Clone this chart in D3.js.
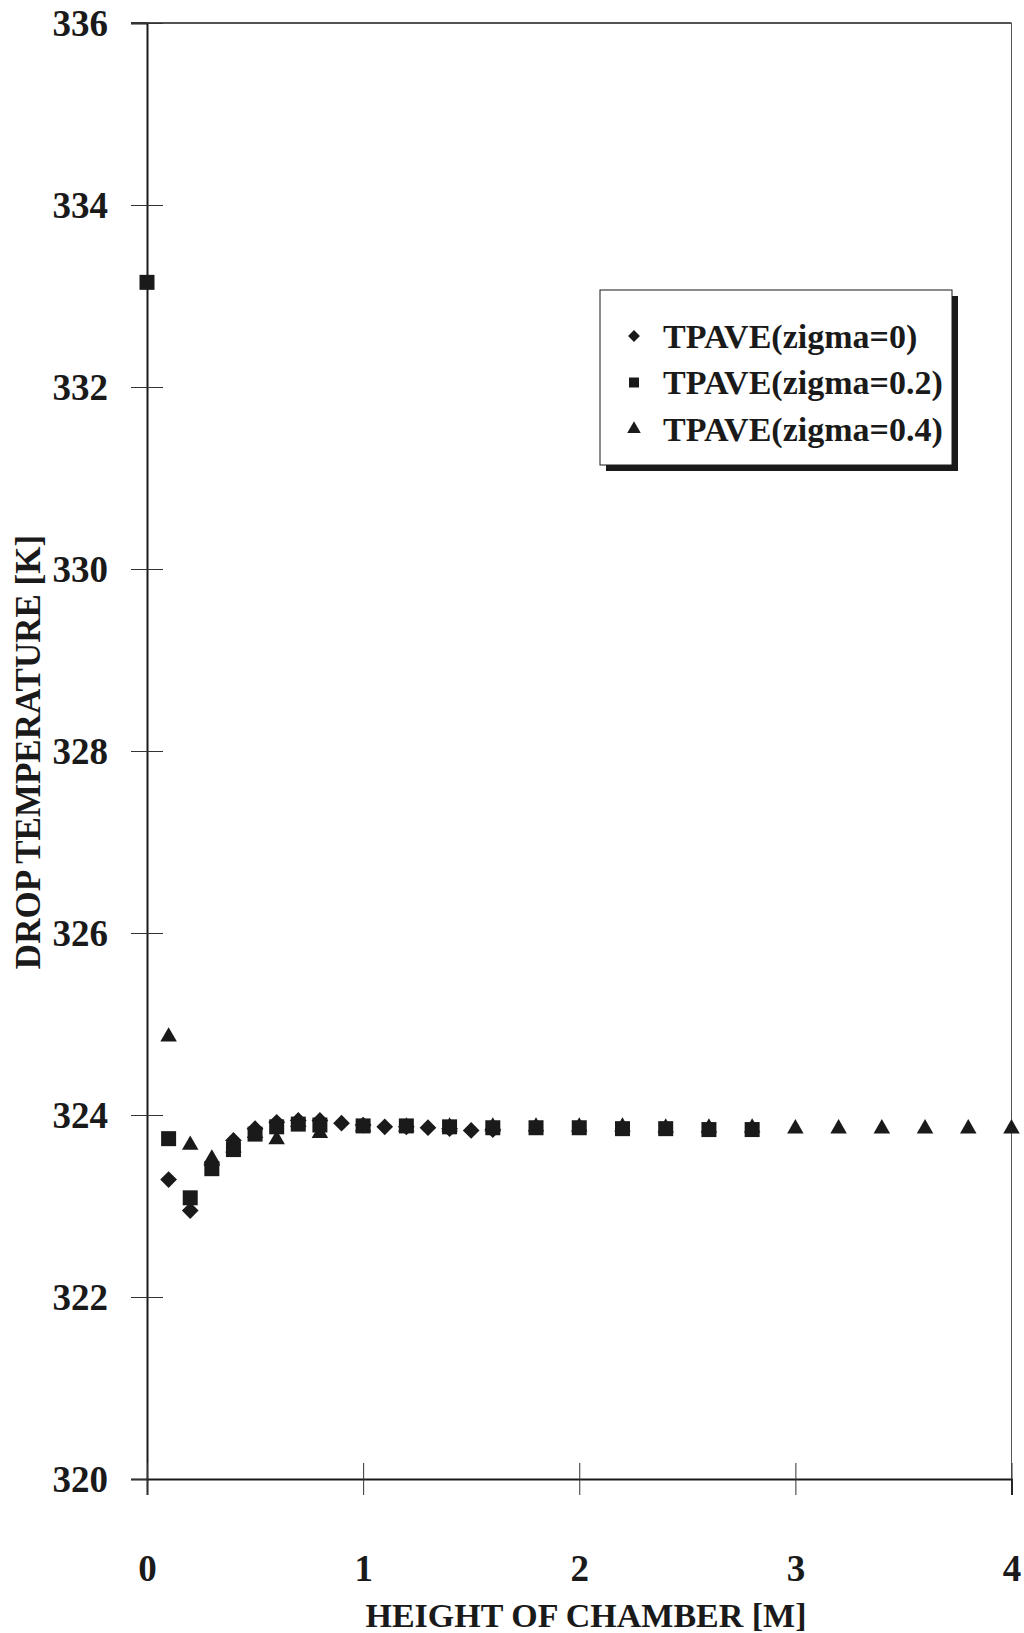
<!DOCTYPE html>
<html>
<head>
<meta charset="utf-8">
<script src="https://cdnjs.cloudflare.com/ajax/libs/d3/7.8.5/d3.min.js"></script>
<style>
  body { margin: 0; background: #fff; }
  svg text { font-family: "Liberation Serif", "Times New Roman", serif; font-weight: bold; fill: #1a1a1a; }
</style>
</head>
<body>
<div id="chart"></div>
<script>
// data
var seriesNames = ["TPAVE(zigma=0)", "TPAVE(zigma=0.2)", "TPAVE(zigma=0.4)"];

var xZigma0 = [0.1, 0.2, 0.3, 0.4, 0.5, 0.6, 0.7, 0.8, 0.9, 1.0, 1.1, 1.2, 1.3, 1.4, 1.5, 1.6];
var tZigma0 = [323.29, 322.95, 323.45, 323.72, 323.85, 323.92, 323.94, 323.94, 323.91, 323.89, 323.87, 323.87, 323.86, 323.85, 323.83, 323.84];

var xZigma02 = [0, 0.1, 0.2, 0.3, 0.4, 0.5, 0.6, 0.7, 0.8, 1.0, 1.2, 1.4, 1.6, 1.8, 2.0, 2.2, 2.4, 2.6, 2.8];
var tZigma02 = [333.15, 323.74, 323.09, 323.41, 323.62, 323.79, 323.87, 323.90, 323.89, 323.88, 323.88, 323.87, 323.86, 323.86, 323.86, 323.85, 323.85, 323.84, 323.84];

var xZigma04 = [0.1, 0.2, 0.3, 0.4, 0.5, 0.6, 0.7, 0.8, 1.0, 1.2, 1.4, 1.6, 1.8, 2.0, 2.2, 2.4, 2.6, 2.8, 3.0, 3.2, 3.4, 3.6, 3.8, 4.0];
var tZigma04 = [324.86, 323.67, 323.52, 323.64, 323.80, 323.73, 323.92, 323.80, 323.87, 323.87, 323.87, 323.87, 323.87, 323.87, 323.87, 323.86, 323.86, 323.86, 323.85, 323.85, 323.85, 323.85, 323.85, 323.85];

var xTicks = [0, 1, 2, 3, 4];
var yTicks = [320, 322, 324, 326, 328, 330, 332, 334, 336];

var width = 1024, height = 1633;
var margin = {left: 147, top: 23, right: 12.5, bottom: 154};
var ink = "#1a1a1a";

var svg = d3.select("#chart").append("svg")
    .attr("width", width)
    .attr("height", height);

var x = d3.scaleLinear().domain([0, 4]).range([margin.left, width - margin.right]);
var y = d3.scaleLinear().domain([320, 336]).range([height - margin.bottom, margin.top]);

// frame: top and right lines are thin, axes heavier
svg.append("line")
    .attr("x1", x(0) - 16).attr("x2", x(4))
    .attr("y1", y(336)).attr("y2", y(336))
    .attr("stroke", ink).attr("stroke-width", 1.5);
svg.append("line")
    .attr("x1", x(4)).attr("x2", x(4))
    .attr("y1", y(336)).attr("y2", y(320))
    .attr("stroke", "#555").attr("stroke-width", 1);

var yAxis = d3.axisLeft(y).tickValues(yTicks).tickSize(16).tickPadding(23);
var xAxis = d3.axisBottom(x).tickValues(xTicks).tickFormat(d3.format("d")).tickSize(16).tickPadding(60);

var gy = svg.append("g")
    .attr("transform", "translate(" + x(0) + ",0)")
    .call(yAxis);
var gx = svg.append("g")
    .attr("transform", "translate(0," + y(320) + ")")
    .call(xAxis);

[gx, gy].forEach(function(g) {
  g.select(".domain").attr("stroke", ink).attr("stroke-width", 2);
  g.selectAll(".tick line").attr("stroke", "#333").attr("stroke-width", 1);
  g.selectAll(".tick text")
    .attr("fill", ink)
    .style("font-family", "'Liberation Serif', serif")
    .style("font-weight", "bold")
    .style("font-size", "37px");
});
// ticks cross the axis line
gy.selectAll(".tick line").attr("x2", 16).attr("x1", -16);
gx.selectAll(".tick line").attr("y1", -16).attr("y2", 16);
gy.selectAll(".tick text").attr("dy", "0.34em");

// axis titles
svg.append("text")
    .attr("x", 586).attr("y", 1627)
    .attr("text-anchor", "middle")
    .style("font-size", "34px")
    .text("HEIGHT OF CHAMBER [M]");

svg.append("text")
    .attr("transform", "translate(40,752) rotate(-90)")
    .attr("text-anchor", "middle")
    .style("font-size", "35px")
    .text("DROP TEMPERATURE [K]");

// markers
var diamond = d3.symbol().type(d3.symbolSquare).size(140);
var square = d3.symbol().type(d3.symbolSquare).size(225);
var triangle = d3.symbol().type(d3.symbolTriangle).size(118);

function drawSeries(xs, ts, sym, rot) {
  svg.append("g").selectAll("path")
    .data(xs.map(function(d, i) { return {x: d, t: ts[i]}; }))
    .enter().append("path")
    .attr("d", sym)
    .attr("fill", ink)
    .attr("transform", function(d) {
      return "translate(" + x(d.x) + "," + y(d.t) + ") rotate(" + rot + ")";
    });
}

drawSeries(xZigma0, tZigma0, diamond, 45);
drawSeries(xZigma04, tZigma04, triangle, 0);
drawSeries(xZigma02, tZigma02, square, 0);

// legend box with drop shadow
var lg = svg.append("g").attr("transform", "translate(600,290)");
var lw = 352, lh = 175;
lg.append("rect")
    .attr("x", 6).attr("y", 6).attr("width", lw).attr("height", lh)
    .attr("fill", ink);
lg.append("rect")
    .attr("width", lw).attr("height", lh)
    .attr("fill", "#fff").attr("stroke", ink).attr("stroke-width", 1);

var legSyms = [
  {sym: d3.symbol().type(d3.symbolSquare).size(70), rot: 45},
  {sym: d3.symbol().type(d3.symbolSquare).size(100), rot: 0},
  {sym: d3.symbol().type(d3.symbolTriangle).size(80), rot: 0}
];

seriesNames.forEach(function(name, i) {
  var row = lg.append("g").attr("transform", "translate(0," + (46 + i * 46.5) + ")");
  row.append("path")
      .attr("d", legSyms[i].sym)
      .attr("fill", ink)
      .attr("transform", "translate(34,0) rotate(" + legSyms[i].rot + ")");
  row.append("text")
      .attr("x", 63).attr("dy", "0.34em")
      .style("font-size", "34px")
      .text(name);
});
</script>
</body>
</html>
